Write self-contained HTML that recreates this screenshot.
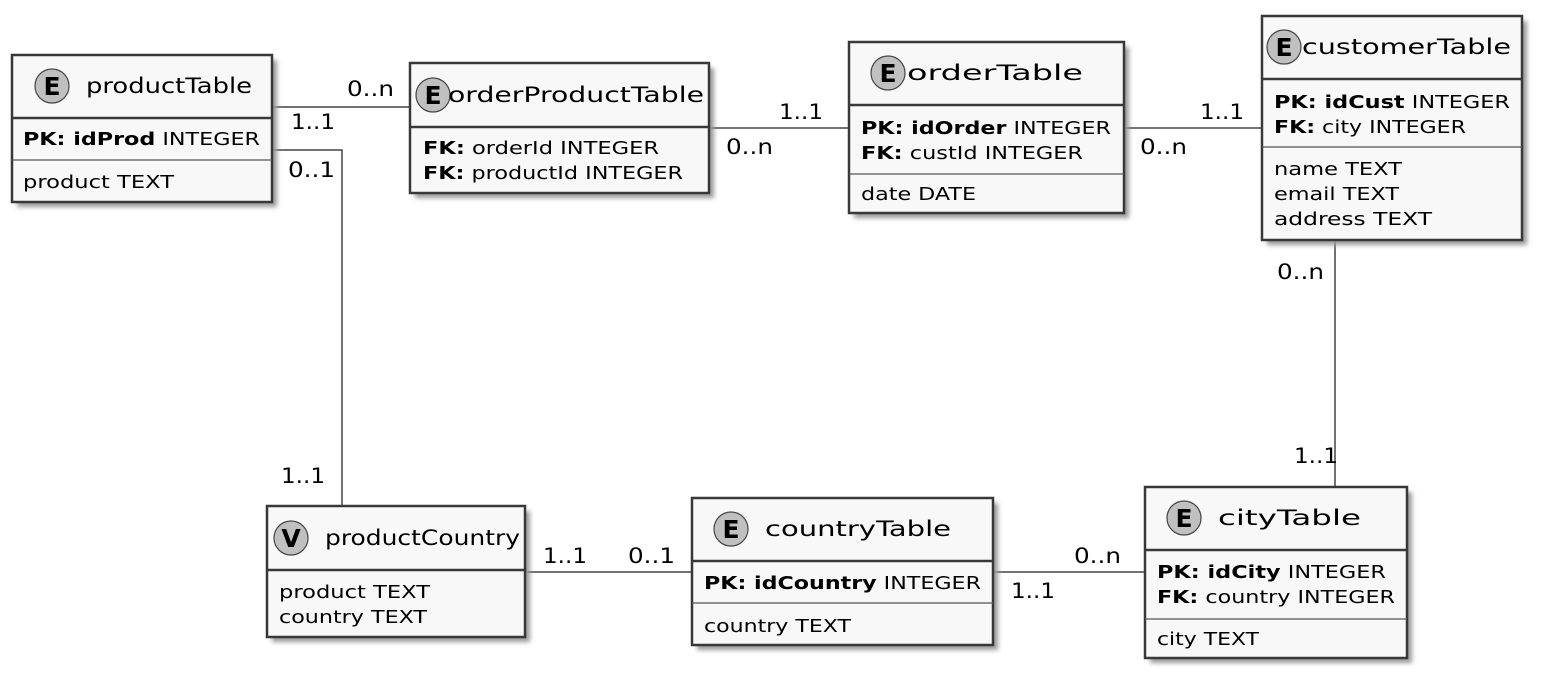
<!DOCTYPE html>
<html><head><meta charset="utf-8"><style>body{margin:0;background:#fff}</style></head><body>
<svg width="1542" height="678" xmlns="http://www.w3.org/2000/svg" font-family="DejaVu Sans, Liberation Sans, sans-serif">
<defs><filter id="sh" x="-10%" y="-10%" width="130%" height="130%"><feGaussianBlur stdDeviation="2.5"/></filter></defs>
<g stroke="#444" stroke-width="1.5" fill="none">
<line x1="272" y1="107" x2="410" y2="107"/>
<polyline points="272,150 342,150 342,506"/>
<line x1="709" y1="128" x2="849" y2="128"/>
<line x1="1124" y1="128" x2="1262" y2="128"/>
<line x1="1335" y1="240" x2="1335" y2="487"/>
<line x1="525" y1="572" x2="692" y2="572"/>
<line x1="993" y1="572" x2="1145" y2="572"/>
</g>
<g font-size="21" fill="#000" lengthAdjust="spacingAndGlyphs">
<text x="347" y="96" textLength="47" lengthAdjust="spacingAndGlyphs">0..n</text>
<text x="291" y="129" textLength="44" lengthAdjust="spacingAndGlyphs">1..1</text>
<text x="288" y="177" textLength="47" lengthAdjust="spacingAndGlyphs">0..1</text>
<text x="281" y="483" textLength="44" lengthAdjust="spacingAndGlyphs">1..1</text>
<text x="779" y="119" textLength="44" lengthAdjust="spacingAndGlyphs">1..1</text>
<text x="726" y="154" textLength="47" lengthAdjust="spacingAndGlyphs">0..n</text>
<text x="1200" y="119" textLength="44" lengthAdjust="spacingAndGlyphs">1..1</text>
<text x="1140" y="154" textLength="47" lengthAdjust="spacingAndGlyphs">0..n</text>
<text x="1277" y="279" textLength="47" lengthAdjust="spacingAndGlyphs">0..n</text>
<text x="1294" y="463" textLength="44" lengthAdjust="spacingAndGlyphs">1..1</text>
<text x="543" y="563" textLength="44" lengthAdjust="spacingAndGlyphs">1..1</text>
<text x="628" y="563" textLength="47" lengthAdjust="spacingAndGlyphs">0..1</text>
<text x="1074" y="563" textLength="47" lengthAdjust="spacingAndGlyphs">0..n</text>
<text x="1011" y="598" textLength="44" lengthAdjust="spacingAndGlyphs">1..1</text>
</g>
<g fill="#999" filter="url(#sh)">
<rect x="17" y="60" width="260" height="147"/><rect x="415" y="68" width="299" height="130"/>
<rect x="854" y="47" width="275" height="171"/><rect x="1267" y="21" width="260" height="224"/>
<rect x="272" y="511" width="258" height="131"/><rect x="697" y="503" width="301" height="147"/>
<rect x="1150" y="492" width="262" height="171"/>
</g>
<g fill="#f8f8f8" stroke="#383838" stroke-width="2.5">
<rect x="12" y="55" width="260" height="147"/><rect x="410" y="63" width="299" height="130"/>
<rect x="849" y="42" width="275" height="171"/><rect x="1262" y="16" width="260" height="224"/>
<rect x="267" y="506" width="258" height="131"/><rect x="692" y="498" width="301" height="147"/>
<rect x="1145" y="487" width="262" height="171"/>
</g>
<g stroke="#383838" stroke-width="2.5">
<line x1="12" y1="118" x2="272" y2="118"/><line x1="410" y1="127" x2="709" y2="127"/>
<line x1="849" y1="105" x2="1124" y2="105"/><line x1="1262" y1="79" x2="1522" y2="79"/>
<line x1="267" y1="570" x2="525" y2="570"/><line x1="692" y1="561" x2="993" y2="561"/>
<line x1="1145" y1="550" x2="1407" y2="550"/>
</g>
<g stroke="#555" stroke-width="1.2">
<line x1="12" y1="160" x2="272" y2="160"/><line x1="849" y1="174" x2="1124" y2="174"/>
<line x1="1262" y1="147" x2="1522" y2="147"/><line x1="692" y1="603" x2="993" y2="603"/>
<line x1="1145" y1="619" x2="1407" y2="619"/>
</g>
<g fill="#c0c0c0" stroke="#444" stroke-width="1.2">
<circle cx="52" cy="86" r="17"/><circle cx="433" cy="95" r="17"/><circle cx="888" cy="73" r="17"/>
<circle cx="1284" cy="47" r="17"/><circle cx="291" cy="538" r="17"/><circle cx="731" cy="529" r="17"/>
<circle cx="1184" cy="518" r="17"/>
</g>
<g font-size="25" font-weight="bold" text-anchor="middle">
<text x="52" y="95">E</text><text x="433" y="104">E</text><text x="888" y="82">E</text>
<text x="1284" y="56">E</text><text x="291" y="547">V</text><text x="731" y="538">E</text><text x="1184" y="527">E</text>
</g>
<g font-size="21">
<text x="86" y="93" textLength="166" lengthAdjust="spacingAndGlyphs">productTable</text>
<text x="448" y="102" textLength="256" lengthAdjust="spacingAndGlyphs">orderProductTable</text>
<text x="907" y="80" textLength="176" lengthAdjust="spacingAndGlyphs">orderTable</text>
<text x="1302" y="54" textLength="209" lengthAdjust="spacingAndGlyphs">customerTable</text>
<text x="325" y="545" textLength="195" lengthAdjust="spacingAndGlyphs">productCountry</text>
<text x="765" y="536" textLength="186" lengthAdjust="spacingAndGlyphs">countryTable</text>
<text x="1218" y="525" textLength="143" lengthAdjust="spacingAndGlyphs">cityTable</text>
</g>
<g font-size="18">
<text x="23" y="145" textLength="237" lengthAdjust="spacingAndGlyphs"><tspan font-weight="bold">PK: idProd</tspan> INTEGER</text>
<text x="23" y="188" textLength="151" lengthAdjust="spacingAndGlyphs">product TEXT</text>
<text x="423" y="154" textLength="236" lengthAdjust="spacingAndGlyphs"><tspan font-weight="bold">FK:</tspan> orderId INTEGER</text>
<text x="423" y="179" textLength="260" lengthAdjust="spacingAndGlyphs"><tspan font-weight="bold">FK:</tspan> productId INTEGER</text>
<text x="861" y="134" textLength="250" lengthAdjust="spacingAndGlyphs"><tspan font-weight="bold">PK: idOrder</tspan> INTEGER</text>
<text x="861" y="159" textLength="222" lengthAdjust="spacingAndGlyphs"><tspan font-weight="bold">FK:</tspan> custId INTEGER</text>
<text x="861" y="200" textLength="115" lengthAdjust="spacingAndGlyphs">date DATE</text>
<text x="1274" y="108" textLength="236" lengthAdjust="spacingAndGlyphs"><tspan font-weight="bold">PK: idCust</tspan> INTEGER</text>
<text x="1274" y="133" textLength="192" lengthAdjust="spacingAndGlyphs"><tspan font-weight="bold">FK:</tspan> city INTEGER</text>
<text x="1274" y="175" textLength="128" lengthAdjust="spacingAndGlyphs">name TEXT</text>
<text x="1274" y="200" textLength="125" lengthAdjust="spacingAndGlyphs">email TEXT</text>
<text x="1274" y="225" textLength="158" lengthAdjust="spacingAndGlyphs">address TEXT</text>
<text x="279" y="598" textLength="151" lengthAdjust="spacingAndGlyphs">product TEXT</text>
<text x="279" y="623" textLength="148" lengthAdjust="spacingAndGlyphs">country TEXT</text>
<text x="704" y="589" textLength="277" lengthAdjust="spacingAndGlyphs"><tspan font-weight="bold">PK: idCountry</tspan> INTEGER</text>
<text x="704" y="632" textLength="147" lengthAdjust="spacingAndGlyphs">country TEXT</text>
<text x="1157" y="578" textLength="229" lengthAdjust="spacingAndGlyphs"><tspan font-weight="bold">PK: idCity</tspan> INTEGER</text>
<text x="1157" y="603" textLength="238" lengthAdjust="spacingAndGlyphs"><tspan font-weight="bold">FK:</tspan> country INTEGER</text>
<text x="1157" y="645" textLength="102" lengthAdjust="spacingAndGlyphs">city TEXT</text>
</g>
</svg>
</body></html>
